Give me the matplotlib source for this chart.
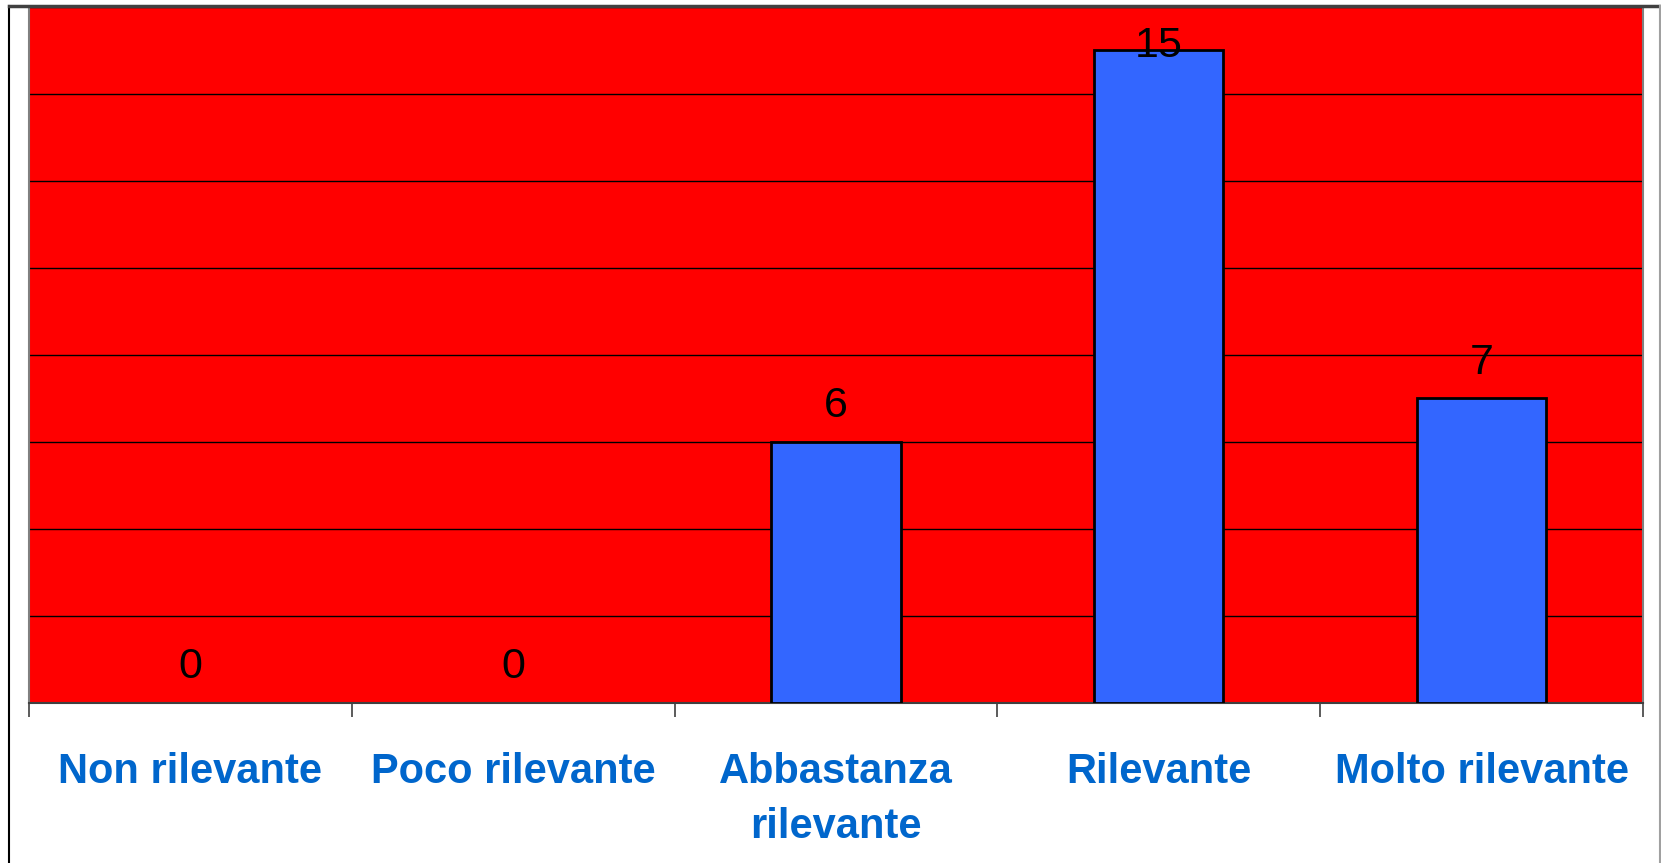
import matplotlib
matplotlib.use("Agg")
import matplotlib.pyplot as plt
from matplotlib.lines import Line2D

categories = ["Non rilevante", "Poco rilevante", "Abbastanza\nrilevante", "Rilevante", "Molto rilevante"]
values = [0, 0, 6, 15, 7]
y_max = 16
grid_step = 2

plt.rcParams['font.family'] = ['Liberation Sans', 'DejaVu Sans']

W, H = 1661, 863
fig = plt.figure(figsize=(W / 100, H / 100), dpi=100)
fig.patch.set_facecolor('white')
ax = fig.add_axes([29 / W, (H - 703) / H, (1643 - 29) / W, (703 - 7) / H])
ax.set_facecolor('#FF0000')

x = list(range(len(categories)))
edge_widths = [2 if v > 0 else 0 for v in values]
ax.bar(x, values, width=0.4, color='#3366FF', edgecolor='black', linewidth=edge_widths, zorder=3)

ax.set_xlim(-0.5, len(categories) - 0.5)
ax.set_ylim(0, y_max)
ax.set_yticks(range(0, y_max + 1, grid_step))
ax.set_yticklabels([])
ax.tick_params(axis='y', length=0)
ax.grid(axis='y', color='black', linewidth=1, zorder=1)
ax.set_axisbelow(True)

ax.set_xticks(x)
ax.set_xticklabels(categories, fontsize=30, fontweight='bold', color='#0066CC', linespacing=1.5)
ax.tick_params(axis='x', which='major', length=0, pad=35)
ax.set_xticks([i - 0.5 for i in range(len(categories) + 1)], minor=True)
ax.tick_params(axis='x', which='minor', length=10, width=1.2, color='#404040', direction='out')

for s in ['left', 'right', 'top']:
    ax.spines[s].set_color('#808080')
    ax.spines[s].set_linewidth(1.5)
ax.spines['bottom'].set_color('#404040')
ax.spines['bottom'].set_linewidth(1.5)

px = 696 / y_max
for xi, v in zip(x, values):
    ly = min(v + 25 / px, y_max - 50 / px)
    ax.text(xi, ly, str(v), ha='center', va='baseline', fontsize=31, color='black', zorder=4)

# outer chart border
fig.add_artist(Line2D([8.5 / W, 8.5 / W], [0, (H - 6) / H], transform=fig.transFigure, color='black', linewidth=1.5))
fig.add_artist(Line2D([8.5 / W, 1660 / W], [(H - 6) / H, (H - 6) / H], transform=fig.transFigure, color='#404040', linewidth=2.5))
fig.add_artist(Line2D([1659.5 / W, 1659.5 / W], [0, (H - 6) / H], transform=fig.transFigure, color='#A0A0A0', linewidth=1.5))

fig.savefig('out.png', dpi=100)
